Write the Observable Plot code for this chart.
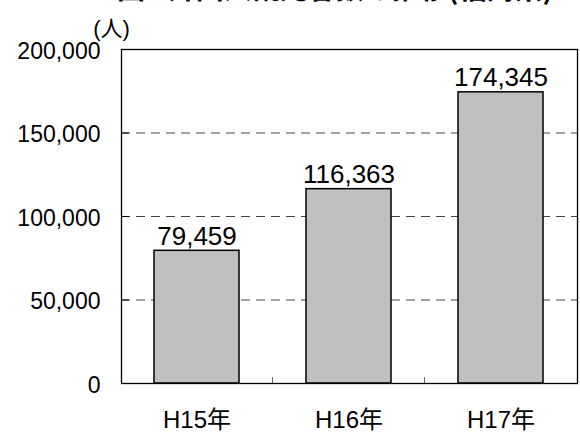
<!DOCTYPE html>
<html>
<head>
<meta charset="utf-8">
<script src="https://cdn.jsdelivr.net/npm/d3@7"></script>
<script src="https://cdn.jsdelivr.net/npm/@observablehq/plot@0.6"></script>
<style>
  html, body { margin: 0; padding: 0; background: white; }
  #wrap { position: relative; width: 580px; height: 440px; overflow: hidden; }
  #title { position: absolute; left: 90px; width: 490px; top: -27px; text-align: center;
    font-family: "Noto Sans CJK JP", sans-serif; font-size: 28px; line-height: 28px; font-weight: bold; color: #000; white-space: nowrap; }
</style>
</head>
<body>
<div id="wrap"><div id="title"></div></div>
<script>
const title = "図1 外国人観光客数の推移(福島県)";
const yUnit = "(人)";
const categories = ["H15年", "H16年", "H17年"];
const values = [79459, 116363, 174345];
const yTicks = [0, 50000, 100000, 150000, 200000];
const gridValues = [50000, 100000, 150000];

const data = categories.map((c, i) => ({cat: c, value: values[i]}));
const fmt = d3.format(",");
const tickShape = {draw(context, l) { context.moveTo(0, 0); context.lineTo(0, -l); }};

document.getElementById("title").textContent = title;

const chart = Plot.plot({
  width: 580,
  height: 440,
  marginLeft: 121,
  marginRight: 3,
  marginTop: 49,
  marginBottom: 57,
  style: {fontFamily: "'Liberation Sans', Arial, 'Noto Sans CJK JP', sans-serif", background: "transparent", color: "black"},
  x: {domain: categories, paddingInner: 0.438, paddingOuter: 0.21, axis: null, label: null},
  y: {domain: [0, 200000], axis: null, label: null},
  marks: [
    Plot.ruleY(gridValues, {stroke: "#444", strokeWidth: 1, strokeDasharray: "9,6"}),
    Plot.barY(data, {x: "cat", y: "value", fill: "#c0c0c0", stroke: "black", strokeWidth: 1.5}),
    Plot.vector(categories.slice(1), {x: d => d, y: 0, length: 6, rotate: 0, anchor: "start", shape: tickShape, dx: -76.5, stroke: "#666", strokeWidth: 1}),
    Plot.vector(yTicks, {y: d => d, frameAnchor: "left", length: 7, rotate: 90, anchor: "start", shape: tickShape, stroke: "black", strokeWidth: 1}),
    Plot.frame({stroke: "black", strokeWidth: 1.3}),
    Plot.axisY({ticks: yTicks, tickSize: 0, tickPadding: 21, tickFormat: fmt, fontSize: 23, dy: 2, label: null}),
    Plot.axisX({tickSize: 0, tickPadding: 27, fontSize: 24, label: null}),
    Plot.text(data, {x: "cat", y: "value", text: d => fmt(d.value), dy: -6, lineAnchor: "bottom", fontSize: 26, fill: "black"}),
    Plot.text([yUnit], {frameAnchor: "top-left", textAnchor: "middle", lineAnchor: "middle", dx: -10, dy: -21, fontSize: 22, fill: "black"})
  ]
});
document.getElementById("wrap").appendChild(chart);
</script>
</body>
</html>
